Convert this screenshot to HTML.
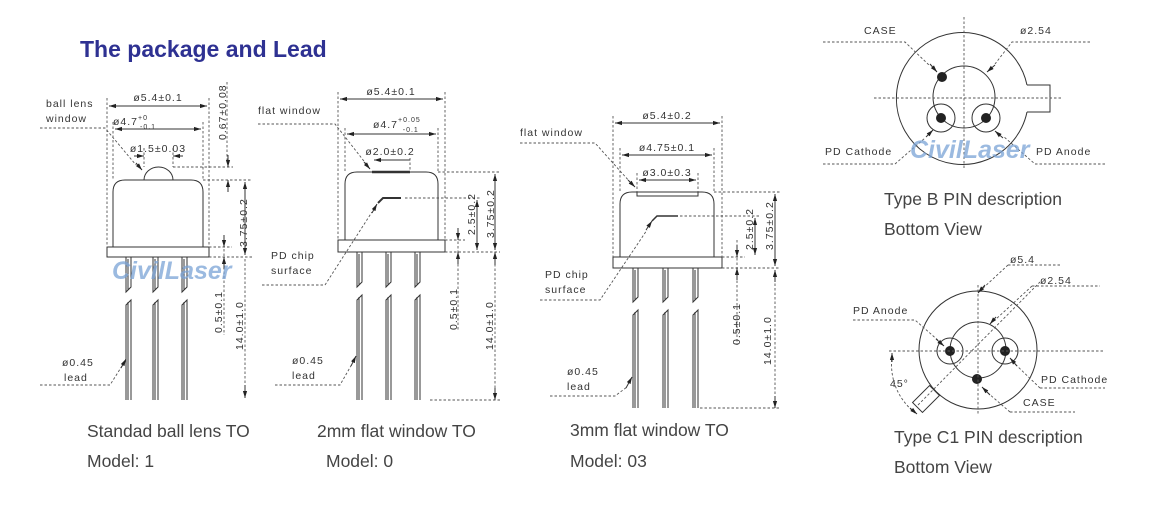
<!DOCTYPE html>
<html><head><meta charset="utf-8"><style>
html,body{margin:0;padding:0;background:#fff;}
svg{display:block;}
.t{font-family:"Liberation Sans",sans-serif;font-size:10.5px;fill:#333;letter-spacing:1px;}
.cap{font-family:"Liberation Sans",sans-serif;font-size:17.5px;fill:#444;}
.wm{font-family:"Liberation Sans",sans-serif;font-weight:bold;font-style:italic;font-size:25px;fill:#7aa3d6;opacity:0.75;}
.d{stroke:#555;stroke-width:0.9;stroke-dasharray:2.5,2;fill:none;}
.s{stroke:#333;stroke-width:1;fill:none;}
.b{stroke:#333;stroke-width:1;fill:#fff;}
</style></head><body>
<svg width="1153" height="516" viewBox="0 0 1153 516" xmlns="http://www.w3.org/2000/svg">
<defs>
<marker id="a" viewBox="0 0 10 10" refX="10" refY="5" markerWidth="7" markerHeight="7" orient="auto-start-reverse"><path d="M0,2 L10,5 L0,8z" fill="#222"/></marker>
</defs>
<text x="80" y="57" style="font-family:'Liberation Sans',sans-serif;font-weight:bold;font-size:23px;fill:#2e3192">The package and Lead</text>

<!-- ===== Drawing 1 ===== -->
<g>
<path class="b" d="M113,247 V192 Q113,180 125,180 H191 Q203,180 203,192 V247 Z"/>
<path class="b" d="M144,180 A14.5,13 0 0 1 173,180 Z"/>
<rect class="b" x="107" y="247" width="102" height="10"/>
<g class="s">
<path d="M126,257 V292 L131,287 V257"/><path d="M128,259 V290"/>
<path d="M126,400 V305 L131,300 V400"/><path d="M128,302 V400"/>
<path d="M153,257 V292 L158,287 V257"/><path d="M155,259 V290"/>
<path d="M153,400 V305 L158,300 V400"/><path d="M155,302 V400"/>
<path d="M182,257 V292 L187,287 V257"/><path d="M184,259 V290"/>
<path d="M182,400 V305 L187,300 V400"/><path d="M184,302 V400"/>
</g>
<path class="d" d="M107,98 V247 M209,98 V247 M113,122 V180 M203,122 V180 M144,148 V167 M173,148 V167"/>
<line class="s" x1="109" y1="106" x2="207" y2="106" marker-start="url(#a)" marker-end="url(#a)"/>
<line class="s" x1="115" y1="129" x2="201" y2="129" marker-start="url(#a)" marker-end="url(#a)"/>
<line class="s" x1="134" y1="156" x2="144" y2="156" marker-end="url(#a)"/>
<line class="s" x1="183" y1="156" x2="173" y2="156" marker-end="url(#a)"/>
<text class="t" x="158" y="101" text-anchor="middle">ø5.4±0.1</text>
<text class="t" x="113" y="125">ø4.7<tspan dy="-5" font-size="7">+0</tspan><tspan dx="-8" dy="9" font-size="7">-0.1</tspan></text>
<text class="t" x="158" y="152" text-anchor="middle">ø1.5±0.03</text>
<path class="d" d="M227,82 V160 M173,167 H233 M203,180 H252 M209,257 H252 M209,247 H232 M224,240 V335"/>
<line class="s" x1="228" y1="155" x2="228" y2="167" marker-end="url(#a)"/>
<line class="s" x1="228" y1="192" x2="228" y2="180" marker-end="url(#a)"/>
<line class="s" x1="245" y1="182" x2="245" y2="255" marker-start="url(#a)" marker-end="url(#a)"/>
<line class="s" x1="224" y1="235" x2="224" y2="247" marker-end="url(#a)"/>
<line class="s" x1="224" y1="269" x2="224" y2="257" marker-end="url(#a)"/>
<line class="d" x1="245" y1="259" x2="245" y2="398"/>
<line class="s" x1="245" y1="385" x2="245" y2="398" marker-end="url(#a)"/>
<text class="t" transform="translate(226,140) rotate(-90)">0.67±0.08</text>
<text class="t" transform="translate(247,247) rotate(-90)">3.75±0.2</text>
<text class="t" transform="translate(222,333) rotate(-90)">0.5±0.1</text>
<text class="t" transform="translate(243,350) rotate(-90)">14.0±1.0</text>
<text class="t" x="46" y="107">ball lens</text><text class="t" x="46" y="122">window</text>
<path class="d" d="M40,128 H105 L136,165"/>
<line class="s" x1="136" y1="163" x2="142" y2="170" marker-end="url(#a)"/>
<text class="t" x="62" y="366">ø0.45</text><text class="t" x="64" y="381">lead</text>
<path class="d" d="M40,385 H110 L122,366"/>
<line class="s" x1="121" y1="368" x2="126" y2="359" marker-end="url(#a)"/>
<text class="wm" x="112" y="279">CivilLaser</text>
</g>

<!-- ===== Drawing 2 ===== -->
<g>
<path class="b" d="M345,240 V184 Q345,172 357,172 H426 Q438,172 438,184 V240 Z"/>
<line x1="372" y1="172" x2="410" y2="172" stroke="#333" stroke-width="2.5"/>
<path d="M378,203 L383,198 H401" stroke="#333" stroke-width="2" fill="none"/>
<rect class="b" x="338" y="240" width="107" height="12"/>
<g class="s">
<path d="M357,252 V287 L362,282 V252"/><path d="M359,254 V285"/>
<path d="M357,400 V300 L362,295 V400"/><path d="M359,297 V400"/>
<path d="M386,252 V287 L391,282 V252"/><path d="M388,254 V285"/>
<path d="M386,400 V300 L391,295 V400"/><path d="M388,297 V400"/>
<path d="M415,252 V287 L420,282 V252"/><path d="M417,254 V285"/>
<path d="M415,400 V300 L420,295 V400"/><path d="M417,297 V400"/>
</g>
<path class="d" d="M338,92 V240 M445,92 V240 M345,128 V172 M438,128 V172 M410,158 V172"/>
<line class="s" x1="340" y1="99" x2="443" y2="99" marker-start="url(#a)" marker-end="url(#a)"/>
<line class="s" x1="347" y1="134" x2="436" y2="134" marker-start="url(#a)" marker-end="url(#a)"/>
<line class="s" x1="374" y1="160" x2="410" y2="160" marker-start="url(#a)"/>
<text class="t" x="391" y="95" text-anchor="middle">ø5.4±0.1</text>
<text class="t" x="373" y="128">ø4.7<tspan dy="-6" font-size="7">+0.05</tspan><tspan dx="-18" dy="10" font-size="7">-0.1</tspan></text>
<text class="t" x="390" y="155" text-anchor="middle">ø2.0±0.2</text>
<path class="d" d="M438,172 H500 M405,198 H480 M445,240 H465 M445,252 H500 M458,228 V330 M495,255 V400 M430,400 H500"/>
<line class="s" x1="477" y1="200" x2="477" y2="250" marker-start="url(#a)" marker-end="url(#a)"/>
<line class="s" x1="495" y1="174" x2="495" y2="250" marker-start="url(#a)" marker-end="url(#a)"/>
<line class="s" x1="458" y1="228" x2="458" y2="240" marker-end="url(#a)"/>
<line class="s" x1="458" y1="264" x2="458" y2="252" marker-end="url(#a)"/>
<line class="s" x1="495" y1="265" x2="495" y2="252" marker-end="url(#a)"/>
<line class="s" x1="495" y1="388" x2="495" y2="400" marker-end="url(#a)"/>
<text class="t" transform="translate(475,235) rotate(-90)">2.5±0.2</text>
<text class="t" transform="translate(494,238) rotate(-90)">3.75±0.2</text>
<text class="t" transform="translate(457,330) rotate(-90)">0.5±0.1</text>
<text class="t" transform="translate(493,350) rotate(-90)">14.0±1.0</text>
<text class="t" x="258" y="114">flat window</text>
<path class="d" d="M258,124 H335 L367,165"/>
<line class="s" x1="364" y1="162" x2="370" y2="169" marker-end="url(#a)"/>
<text class="t" x="271" y="259">PD chip</text><text class="t" x="271" y="274">surface</text>
<path class="d" d="M262,285 H325 L372,212"/>
<line class="s" x1="372" y1="213" x2="377" y2="204" marker-end="url(#a)"/>
<text class="t" x="292" y="364">ø0.45</text><text class="t" x="292" y="379">lead</text>
<path class="d" d="M275,385 H340 L352,364"/>
<line class="s" x1="351" y1="366" x2="356" y2="356" marker-end="url(#a)"/>
</g>

<!-- ===== Drawing 3 ===== -->
<g>
<path class="b" d="M620,257 V204 Q620,192 632,192 H702 Q714,192 714,204 V257 Z"/>
<rect class="b" x="637" y="192" width="61" height="4"/>
<path d="M652,221 L657,216 H678" stroke="#333" stroke-width="1.5" fill="none"/>
<rect class="b" x="613" y="257" width="109" height="11"/>
<g class="s">
<path d="M633,268 V302 L638,297 V268"/><path d="M635,270 V300"/>
<path d="M633,408 V315 L638,310 V408"/><path d="M635,312 V408"/>
<path d="M663,268 V302 L668,297 V268"/><path d="M665,270 V300"/>
<path d="M663,408 V315 L668,310 V408"/><path d="M665,312 V408"/>
<path d="M693,268 V302 L698,297 V268"/><path d="M695,270 V300"/>
<path d="M693,408 V315 L698,310 V408"/><path d="M695,312 V408"/>
</g>
<path class="d" d="M613,116 V257 M722,116 V257 M620,148 V192 M714,148 V192 M637,173 V192 M698,173 V192"/>
<line class="s" x1="615" y1="123" x2="720" y2="123" marker-start="url(#a)" marker-end="url(#a)"/>
<line class="s" x1="622" y1="155" x2="712" y2="155" marker-start="url(#a)" marker-end="url(#a)"/>
<line class="s" x1="639" y1="180" x2="696" y2="180" marker-start="url(#a)" marker-end="url(#a)"/>
<text class="t" x="667" y="119" text-anchor="middle">ø5.4±0.2</text>
<text class="t" x="667" y="151" text-anchor="middle">ø4.75±0.1</text>
<text class="t" x="667" y="176" text-anchor="middle">ø3.0±0.3</text>
<path class="d" d="M714,192 H780 M680,216 H760 M722,257 H745 M722,268 H780 M737,240 V345 M775,270 V408 M700,408 H780"/>
<line class="s" x1="755" y1="218" x2="755" y2="255" marker-start="url(#a)" marker-end="url(#a)"/>
<line class="s" x1="775" y1="194" x2="775" y2="266" marker-start="url(#a)" marker-end="url(#a)"/>
<line class="s" x1="737" y1="245" x2="737" y2="257" marker-end="url(#a)"/>
<line class="s" x1="737" y1="280" x2="737" y2="268" marker-end="url(#a)"/>
<line class="s" x1="775" y1="282" x2="775" y2="270" marker-end="url(#a)"/>
<line class="s" x1="775" y1="396" x2="775" y2="408" marker-end="url(#a)"/>
<text class="t" transform="translate(753,250) rotate(-90)">2.5±0.2</text>
<text class="t" transform="translate(773,250) rotate(-90)">3.75±0.2</text>
<text class="t" transform="translate(740,345) rotate(-90)">0.5±0.1</text>
<text class="t" transform="translate(771,365) rotate(-90)">14.0±1.0</text>
<text class="t" x="520" y="136">flat window</text>
<path class="d" d="M520,143 H595 L630,182"/>
<line class="s" x1="628" y1="180" x2="635" y2="187" marker-end="url(#a)"/>
<text class="t" x="545" y="278">PD chip</text><text class="t" x="545" y="293">surface</text>
<path class="d" d="M540,300 H600 L647,230"/>
<line class="s" x1="646" y1="230" x2="652" y2="221" marker-end="url(#a)"/>
<text class="t" x="567" y="375">ø0.45</text><text class="t" x="567" y="390">lead</text>
<path class="d" d="M550,396 H615 L627,387"/>
<line class="s" x1="626" y1="388" x2="632" y2="377" marker-end="url(#a)"/>
</g>

<text class="cap" x="87" y="437">Standad ball lens TO</text>
<text class="cap" x="87" y="467">Model: 1</text>
<text class="cap" x="317" y="437">2mm flat window TO</text>
<text class="cap" x="326" y="467">Model: 0</text>
<text class="cap" x="570" y="436">3mm flat window TO</text>
<text class="cap" x="570" y="467">Model: 03</text>

<!-- ===== Type B ===== -->
<g>
<path class="s" d="M1027,85 H1050 V112 H1027"/>
<path class="s" d="M1027,85 A66,66 0 1 0 1027,112"/>
<circle class="s" cx="964" cy="97" r="31"/>
<circle class="s" cx="941" cy="118" r="14"/>
<circle class="s" cx="986" cy="118" r="14"/>
<circle cx="942" cy="77" r="5" fill="#222"/>
<circle cx="941" cy="118" r="5" fill="#222"/>
<circle cx="986" cy="118" r="5" fill="#222"/>
<path class="d" d="M964,17 V170 M874,98 H1062"/>
<path class="d" d="M823,42 H905 L930,66 M1090,42 H1012 L995,64"/>
<line class="s" x1="930" y1="64" x2="937" y2="72" marker-end="url(#a)"/>
<line class="s" x1="995" y1="65" x2="987" y2="72" marker-end="url(#a)"/>
<path class="d" d="M823,164 H895 L925,138 M1105,164 H1035 L1003,136"/>
<line class="s" x1="926" y1="137" x2="933" y2="130" marker-end="url(#a)"/>
<line class="s" x1="1003" y1="138" x2="995" y2="131" marker-end="url(#a)"/>
<text class="t" x="864" y="34">CASE</text>
<text class="t" x="1020" y="34">ø2.54</text>
<text class="t" x="825" y="155">PD Cathode</text>
<text class="t" x="1036" y="155">PD Anode</text>
<text class="wm" x="910" y="158">CivilLaser</text>
</g>
<text class="cap" x="884" y="205">Type B PIN description</text>
<text class="cap" x="884" y="235">Bottom View</text>

<!-- ===== Type C1 ===== -->
<g>
<circle class="s" cx="978" cy="350" r="59"/>
<circle class="s" cx="978" cy="350" r="28"/>
<circle class="s" cx="950" cy="351" r="13"/>
<circle class="s" cx="1005" cy="351" r="13"/>
<circle cx="950" cy="351" r="5" fill="#222"/>
<circle cx="1005" cy="351" r="5" fill="#222"/>
<circle cx="977" cy="379" r="5" fill="#222"/>
<rect class="s" x="-12" y="-7" width="24" height="14" transform="translate(926,399) rotate(-45)"/>
<path class="d" d="M978,285 V415 M889,351 H1105 M918,405 L1040,282"/>
<path class="d" d="M1008,265 H1060 M1008,265 L981,290 M1032,286 H1100 M1032,286 L995,320"/>
<line class="s" x1="985" y1="285" x2="978" y2="293" marker-end="url(#a)"/>
<line class="s" x1="996" y1="317" x2="990" y2="324" marker-end="url(#a)"/>
<path class="d" d="M853,320 H915 L940,342"/>
<line class="s" x1="936" y1="339" x2="944" y2="346" marker-end="url(#a)"/>
<path class="d" d="M1040,388 H1105 M1040,388 L1013,362"/>
<line class="s" x1="1017" y1="366" x2="1010" y2="358" marker-end="url(#a)"/>
<path class="d" d="M1010,412 H1075 M1010,412 L988,393"/>
<line class="s" x1="990" y1="395" x2="982" y2="387" marker-end="url(#a)"/>
<path class="d" d="M892,355 Q888,390 915,413"/>
<line class="s" x1="892" y1="362" x2="892" y2="353" marker-end="url(#a)"/>
<line class="s" x1="910" y1="408" x2="917" y2="414" marker-end="url(#a)"/>
<text class="t" x="1010" y="263">ø5.4</text>
<text class="t" x="1040" y="284">ø2.54</text>
<text class="t" x="853" y="314">PD Anode</text>
<text class="t" x="1041" y="383">PD Cathode</text>
<text class="t" x="1023" y="406">CASE</text>
<text class="t" x="890" y="387">45°</text>
</g>
<text class="cap" x="894" y="443">Type C1 PIN description</text>
<text class="cap" x="894" y="473">Bottom View</text>
</svg>
</body></html>
